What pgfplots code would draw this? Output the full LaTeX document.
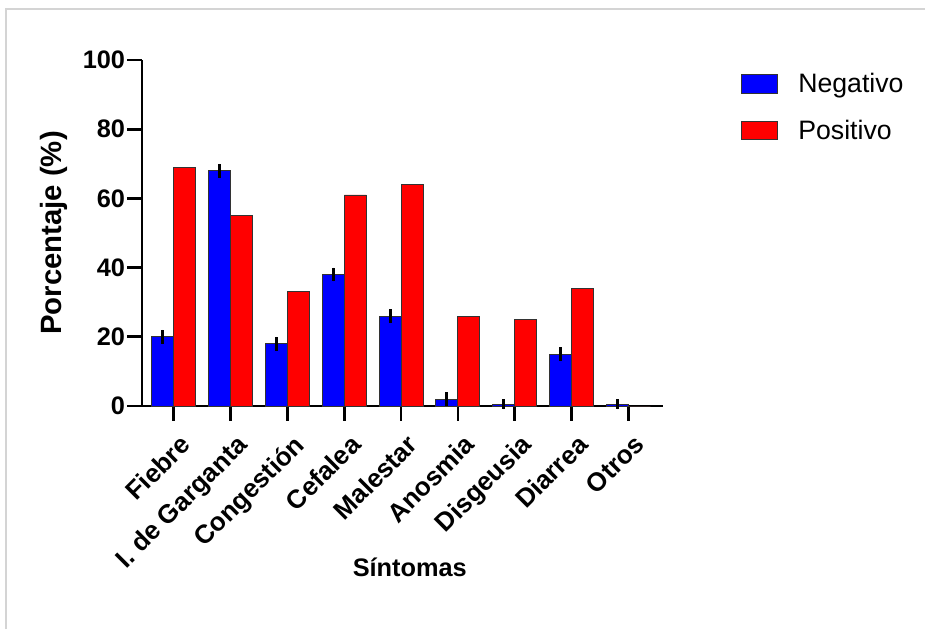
\documentclass[border=0pt]{standalone}
\usepackage{pgfplots}
\pgfplotsset{compat=1.18}
\usepackage{fontspec}
\setmainfont{Liberation Sans}
\definecolor{negblue}{RGB}{0,0,255}
\definecolor{posred}{RGB}{255,0,0}
\definecolor{framegray}{RGB}{212,212,212}
\begin{document}
\begin{tikzpicture}
\useasboundingbox (-106.5pt,-167.25pt) rectangle (587.25pt,304.5pt);
\draw[framegray, line width=1.5pt] (-102pt,-167.25pt) -- (-102pt,298pt) -- (587.25pt,298pt);
\begin{axis}[
  at={(0,0)}, anchor=south west,
  scale only axis,
  width=390.75pt, height=259.5pt,
  ybar=0pt, bar width=16.5pt,
  xmin=-0.56, xmax=8.61,
  ymin=0, ymax=100,
  ytick={0,20,40,60,80,100},
  xtick={0,...,8},
  xticklabels={Fiebre,I. de Garganta,Congestión,Cefalea,Malestar,Anosmia,Disgeusia,Diarrea,Otros},
  axis x line*=bottom, axis y line*=left,
  axis line style={line width=2pt, -},
  tick style={line width=2pt, black},
  tick align=outside,
  major tick length=11pt,
  /pgf/number format/assume math mode=true,
  yticklabel style={font=\bfseries\fontsize{19}{22}\selectfont, inner sep=1.5pt},
  xticklabel style={font=\bfseries\fontsize{19.5}{22}\selectfont, rotate=45, anchor=north east, inner sep=1pt, yshift=-8pt, xshift=-3pt},
  every axis y label/.style={at={(axis description cs:-0.169,0.5)}, rotate=90, anchor=center, font=\bfseries\fontsize{22}{26}\selectfont},
  every axis x label/.style={at={(axis description cs:0.514,-0.465)}, anchor=center, font=\bfseries\fontsize{19}{22}\selectfont},
  ylabel={Porcentaje (\%)},
  xlabel={Síntomas},
  legend style={draw=none, fill=none, at={(axis description cs:1.142,0.978)}, anchor=north west,
    font=\fontsize{20}{24}\selectfont, row sep=15pt, column sep=13pt, legend cell align=left},
  legend image code/.code={\draw[#1, line width=0.8pt] (0pt,-7pt) rectangle (27pt,7pt);},
  clip=false,
]
\addplot[fill=negblue, draw=black!80, line width=0.6pt,
  error bars/.cd, y dir=both, y explicit, error mark=none,
  error bar style={line width=2.2pt, black}]
  coordinates {
  (0,20) +- (0,2)
  (1,68) +- (0,2)
  (2,18) +- (0,2)
  (3,38) +- (0,2)
  (4,26) +- (0,2)
  (5,2) +- (0,2)
  (6,0.5) +- (0,1.5)
  (7,15) +- (0,2)
  (8,0.5) +- (0,1.5)
  };
\addlegendentry{Negativo}
\addplot[fill=posred, draw=black!80, line width=0.6pt]
  coordinates {
  (0,69) (1,55) (2,33) (3,61) (4,64) (5,26) (6,25) (7,34) (8,0)
  };
\addlegendentry{Positivo}
\end{axis}
\end{tikzpicture}
\end{document}
